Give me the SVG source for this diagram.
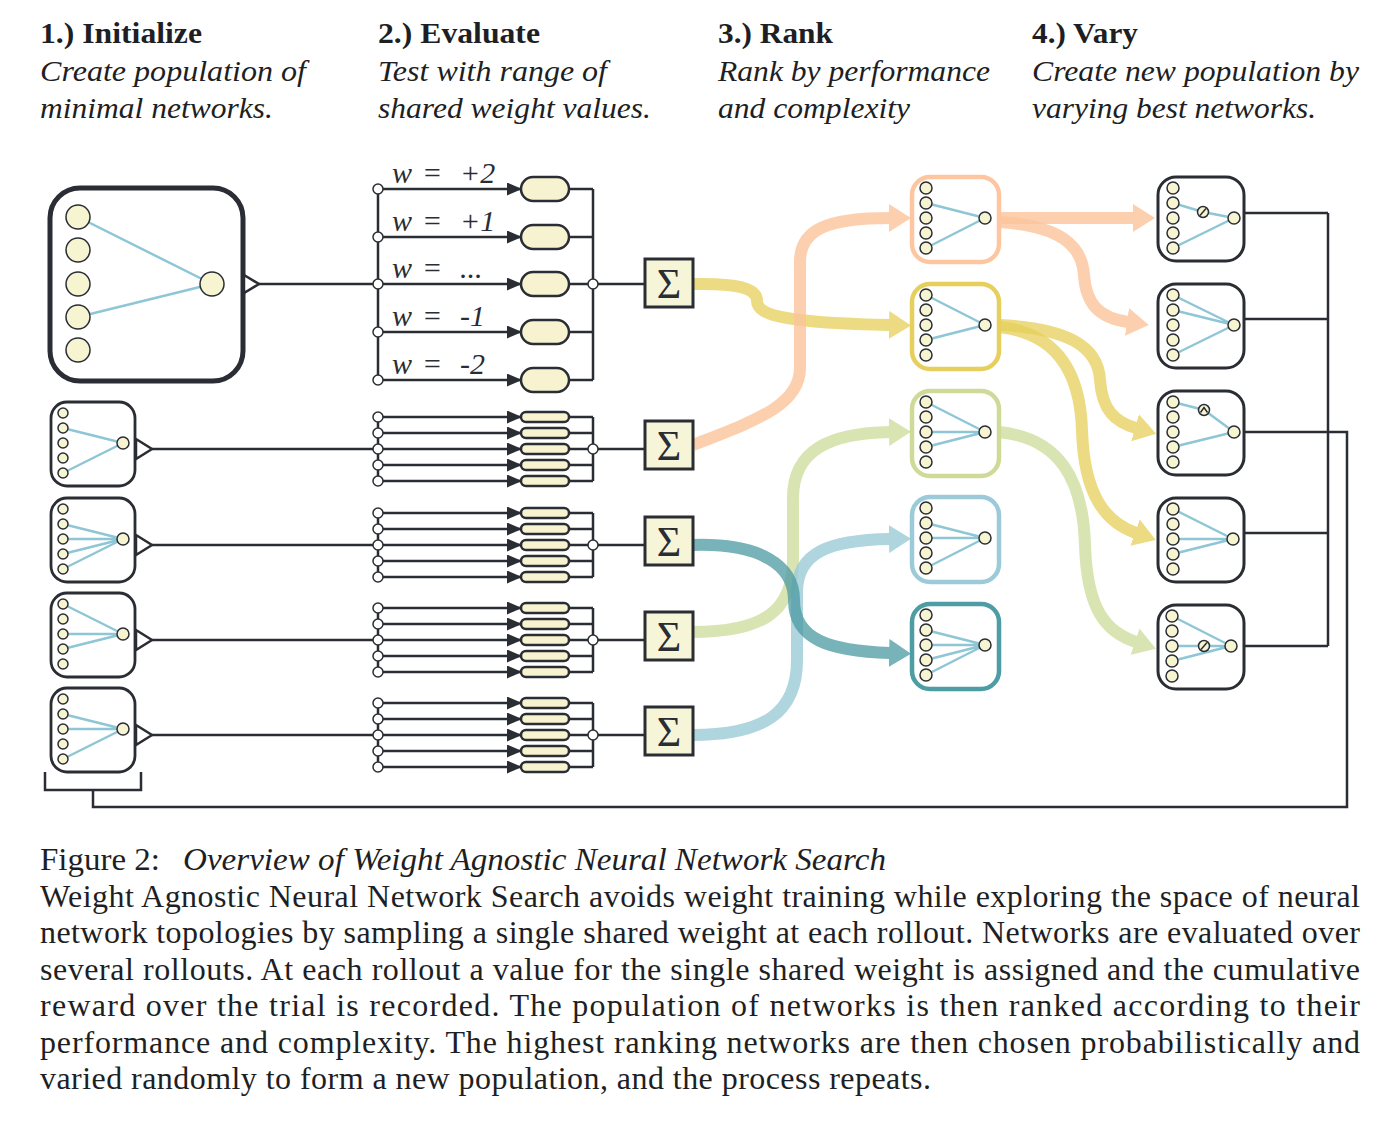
<svg xmlns="http://www.w3.org/2000/svg" width="1378" height="1122" viewBox="0 0 1378 1122">
<style>
.t{font-family:"Liberation Serif","Times New Roman",serif;fill:#1e1f24}
.hb{font-size:30px;font-weight:bold}
.hi{font-size:30px;font-style:italic}
.cap{font-size:32px}
.wl{font-family:"Liberation Serif","Times New Roman",serif;font-size:30px;font-style:italic;fill:#2a2d33}
.sig{font-family:"Liberation Serif","Times New Roman",serif;font-size:42px;fill:#2a2d33;text-anchor:middle}
.nd{fill:#f7f4d2;stroke:#2a2d33;stroke-width:1.5}
.ed{stroke:#8fc6d6;stroke-width:2.5;fill:none}
.ln{stroke:#2a2d33;stroke-width:2.5;fill:none}
.ar{stroke:#2a2d33;stroke-width:2.5;fill:none;marker-end:url(#ah)}
.wc{fill:#fff;stroke:#2a2d33;stroke-width:1.5}
.pill{fill:#f7f2d0;stroke:#2a2d33;stroke-width:2.5}
.sbx{fill:#fff;stroke:#2a2d33;stroke-width:2.8}
.vbx{fill:#fff;stroke:#2a2d33;stroke-width:3}
.rbx{fill:#fff;stroke-width:4.5}
.sg{fill:#f7f5d8;stroke:#2a2d33;stroke-width:3}
.tri{fill:#fff;stroke:#2a2d33;stroke-width:2.5;stroke-linejoin:miter}
.flow{fill:none;stroke-width:12}
.fo{stroke:#fcc59c;opacity:.8;marker-end:url(#mo)}
.fy{stroke:#e6cf5a;opacity:.75;marker-end:url(#my)}
.fg{stroke:#cddc9a;opacity:.75;marker-end:url(#mg)}
.fb{stroke:#9ccbd8;opacity:.8;marker-end:url(#mb)}
.ft{stroke:#4c9aa3;opacity:.75;marker-end:url(#mt)}
</style>
<defs>
<marker id="ah" markerUnits="userSpaceOnUse" markerWidth="15" markerHeight="13" viewBox="0 0 15 13" refX="14" refY="6.5" orient="auto"><path d="M0,0 L15,6.5 L0,13 z" fill="#2a2d33"/></marker>
<marker id="mo" markerUnits="userSpaceOnUse" markerWidth="22" markerHeight="28" viewBox="0 0 22 28" refX="1" refY="14" orient="auto"><path d="M0,0 L22,14 L0,28 z" fill="#fcc59c"/></marker>
<marker id="my" markerUnits="userSpaceOnUse" markerWidth="22" markerHeight="28" viewBox="0 0 22 28" refX="1" refY="14" orient="auto"><path d="M0,0 L22,14 L0,28 z" fill="#e6cf5a"/></marker>
<marker id="mg" markerUnits="userSpaceOnUse" markerWidth="22" markerHeight="28" viewBox="0 0 22 28" refX="1" refY="14" orient="auto"><path d="M0,0 L22,14 L0,28 z" fill="#cddc9a"/></marker>
<marker id="mb" markerUnits="userSpaceOnUse" markerWidth="22" markerHeight="28" viewBox="0 0 22 28" refX="1" refY="14" orient="auto"><path d="M0,0 L22,14 L0,28 z" fill="#9ccbd8"/></marker>
<marker id="mt" markerUnits="userSpaceOnUse" markerWidth="22" markerHeight="28" viewBox="0 0 22 28" refX="1" refY="14" orient="auto"><path d="M0,0 L22,14 L0,28 z" fill="#4c9aa3"/></marker>
</defs>
<rect width="1378" height="1122" fill="#fff"/>

<g id="headers">
<text class="t hb" x="40" y="43" textLength="162" lengthAdjust="spacingAndGlyphs">1.) Initialize</text>
<text class="t hi" x="40" y="81" textLength="266" lengthAdjust="spacingAndGlyphs">Create population of</text>
<text class="t hi" x="40" y="118" textLength="233" lengthAdjust="spacingAndGlyphs">minimal networks.</text>
<text class="t hb" x="378" y="43" textLength="162" lengthAdjust="spacingAndGlyphs">2.) Evaluate</text>
<text class="t hi" x="378" y="81" textLength="229" lengthAdjust="spacingAndGlyphs">Test with range of</text>
<text class="t hi" x="378" y="118" textLength="273" lengthAdjust="spacingAndGlyphs">shared weight values.</text>
<text class="t hb" x="718" y="43" textLength="115" lengthAdjust="spacingAndGlyphs">3.) Rank</text>
<text class="t hi" x="718" y="81" textLength="272" lengthAdjust="spacingAndGlyphs">Rank by performance</text>
<text class="t hi" x="718" y="118" textLength="192" lengthAdjust="spacingAndGlyphs">and complexity</text>
<text class="t hb" x="1032" y="43" textLength="106" lengthAdjust="spacingAndGlyphs">4.) Vary</text>
<text class="t hi" x="1032" y="81" textLength="327" lengthAdjust="spacingAndGlyphs">Create new population by</text>
<text class="t hi" x="1032" y="118" textLength="284" lengthAdjust="spacingAndGlyphs">varying best networks.</text>
</g>

<g id="connectors">
<path class="ln" d="M259,284 H378"/>
<path class="ln" d="M152,449 H378"/>
<path class="ln" d="M152,545 H378"/>
<path class="ln" d="M152,640 H378"/>
<path class="ln" d="M152,735 H378"/>
<path class="ln" d="M593,284 H645"/>
<path class="ln" d="M593,449 H645"/>
<path class="ln" d="M593,545 H645"/>
<path class="ln" d="M593,640 H645"/>
<path class="ln" d="M593,735 H645"/>
<path class="ln" d="M1244,213 H1328 M1244,319 H1328 M1244,533 H1328 M1244,646 H1328 M1328,213 V646"/>
<path class="ln" d="M1244,432 H1347 V807 H93 V790"/>
<path class="ln" d="M45,772 V790 H141 V772"/>
<path class="flow fy" d="M693,284 C737,283 757,288 757,301 C757,316 790,323 890,325"/>
<path class="flow fo" d="M693,445 C757,420 800,405 800,368 L800,262 C800,228 830,218 890,218"/>
<path class="flow fg" d="M693,632 C762,632 793,612 793,560 L793,498 C793,450 830,433 890,432"/>
<path class="flow fb" d="M693,735 C765,735 797,712 797,660 L797,592 C797,552 830,540 890,539"/>
<path class="flow ft" d="M693,545 C760,543 794,565 794,600 C794,640 830,651 890,653"/>
<path class="flow fo" d="M999,218 L1134,218"/>
<path class="flow fo" d="M999,222 C1060,226 1082,245 1084,275 C1086,305 1100,318 1128,322"/>
<path class="flow fy" d="M999,325 C1065,328 1098,345 1100,380 C1102,410 1115,422 1136,428"/>
<path class="flow fy" d="M999,327 C1055,333 1080,370 1082,430 C1084,495 1105,522 1136,533"/>
<path class="flow fg" d="M999,432 C1060,438 1083,480 1085,545 C1087,610 1106,632 1136,642"/>
</g>

<g id="net-init">
<rect x="50" y="188" width="193" height="193" rx="30" fill="#fff" stroke="#2a2d33" stroke-width="5"/>
<path class="ed" d="M78,217 L212,284 M78,317 L212,284"/>
<circle class="nd" cx="78" cy="217" r="12"/><circle class="nd" cx="78" cy="250" r="12"/><circle class="nd" cx="78" cy="284" r="12"/><circle class="nd" cx="78" cy="317" r="12"/><circle class="nd" cx="78" cy="350" r="12"/>
<circle class="nd" cx="212" cy="284" r="12"/>
<polygon class="tri" points="244,275 259,284 244,293"/>
</g>

<g id="net-p2">
<rect class="sbx" x="51" y="402" width="84" height="84" rx="16"/>
<path class="ed" d="M63,428 L123,443 M63,473 L123,443"/>
<circle class="nd" cx="63" cy="413" r="5"/><circle class="nd" cx="63" cy="428" r="5"/><circle class="nd" cx="63" cy="443" r="5"/><circle class="nd" cx="63" cy="458" r="5"/><circle class="nd" cx="63" cy="473" r="5"/>
<circle class="nd" cx="123" cy="443" r="6"/>
<polygon class="tri" points="136,439 152,449 136,459"/>
</g>
<g id="net-p3">
<rect class="sbx" x="51" y="498" width="84" height="84" rx="16"/>
<path class="ed" d="M63,524 L123,539 M63,539 L123,539 M63,554 L123,539 M63,569 L123,539"/>
<circle class="nd" cx="63" cy="509" r="5"/><circle class="nd" cx="63" cy="524" r="5"/><circle class="nd" cx="63" cy="539" r="5"/><circle class="nd" cx="63" cy="554" r="5"/><circle class="nd" cx="63" cy="569" r="5"/>
<circle class="nd" cx="123" cy="539" r="6"/>
<polygon class="tri" points="136,535 152,545 136,555"/>
</g>
<g id="net-p4">
<rect class="sbx" x="51" y="593" width="84" height="84" rx="16"/>
<path class="ed" d="M63,604 L123,634 M63,634 L123,634 M63,649 L123,634"/>
<circle class="nd" cx="63" cy="604" r="5"/><circle class="nd" cx="63" cy="619" r="5"/><circle class="nd" cx="63" cy="634" r="5"/><circle class="nd" cx="63" cy="649" r="5"/><circle class="nd" cx="63" cy="664" r="5"/>
<circle class="nd" cx="123" cy="634" r="6"/>
<polygon class="tri" points="136,630 152,640 136,650"/>
</g>
<g id="net-p5">
<rect class="sbx" x="51" y="688" width="84" height="84" rx="16"/>
<path class="ed" d="M63,714 L123,729 M63,729 L123,729 M63,759 L123,729"/>
<circle class="nd" cx="63" cy="699" r="5"/><circle class="nd" cx="63" cy="714" r="5"/><circle class="nd" cx="63" cy="729" r="5"/><circle class="nd" cx="63" cy="744" r="5"/><circle class="nd" cx="63" cy="759" r="5"/>
<circle class="nd" cx="123" cy="729" r="6"/>
<polygon class="tri" points="136,725 152,735 136,745"/>
</g>

<g id="eval-1">
<path class="ln" d="M378,189 V380 M593,189 V380"/>
<path class="ar" d="M378,189 H521"/><path class="ar" d="M378,237 H521"/><path class="ar" d="M378,284 H521"/><path class="ar" d="M378,332 H521"/><path class="ar" d="M378,380 H521"/>
<path class="ln" d="M569,189 H593 M569,237 H593 M569,284 H593 M569,332 H593 M569,380 H593"/>
<rect class="pill" x="521" y="177" width="48" height="24" rx="12"/>
<rect class="pill" x="521" y="225" width="48" height="24" rx="12"/>
<rect class="pill" x="521" y="272" width="48" height="24" rx="12"/>
<rect class="pill" x="521" y="320" width="48" height="24" rx="12"/>
<rect class="pill" x="521" y="368" width="48" height="24" rx="12"/>
<circle class="wc" cx="378" cy="189" r="5"/><circle class="wc" cx="378" cy="237" r="5"/><circle class="wc" cx="378" cy="284" r="5"/><circle class="wc" cx="378" cy="332" r="5"/><circle class="wc" cx="378" cy="380" r="5"/>
<circle class="wc" cx="593" cy="284" r="5"/>
<text class="wl" x="392" y="183">w</text><text class="wl" x="422" y="183">=</text><text class="wl" x="460" y="183">+2</text>
<text class="wl" x="392" y="231">w</text><text class="wl" x="422" y="231">=</text><text class="wl" x="460" y="231">+1</text>
<text class="wl" x="392" y="278">w</text><text class="wl" x="422" y="278">=</text><text class="wl" x="460" y="278">...</text>
<text class="wl" x="392" y="326">w</text><text class="wl" x="422" y="326">=</text><text class="wl" x="460" y="326">-1</text>
<text class="wl" x="392" y="374">w</text><text class="wl" x="422" y="374">=</text><text class="wl" x="460" y="374">-2</text>
</g>

<g id="eval-2">
<path class="ln" d="M378,417 V481 M593,417 V481"/>
<path class="ar" d="M378,417 H521"/><path class="ar" d="M378,433 H521"/><path class="ar" d="M378,449 H521"/><path class="ar" d="M378,465 H521"/><path class="ar" d="M378,481 H521"/>
<path class="ln" d="M569,417 H593 M569,433 H593 M569,449 H593 M569,465 H593 M569,481 H593"/>
<rect class="pill" x="521" y="412" width="48" height="10" rx="5"/><rect class="pill" x="521" y="428" width="48" height="10" rx="5"/><rect class="pill" x="521" y="444" width="48" height="10" rx="5"/><rect class="pill" x="521" y="460" width="48" height="10" rx="5"/><rect class="pill" x="521" y="476" width="48" height="10" rx="5"/>
<circle class="wc" cx="378" cy="417" r="5"/><circle class="wc" cx="378" cy="433" r="5"/><circle class="wc" cx="378" cy="449" r="5"/><circle class="wc" cx="378" cy="465" r="5"/><circle class="wc" cx="378" cy="481" r="5"/>
<circle class="wc" cx="593" cy="449" r="5"/>
</g>
<g id="eval-3">
<path class="ln" d="M378,513 V577 M593,513 V577"/>
<path class="ar" d="M378,513 H521"/><path class="ar" d="M378,529 H521"/><path class="ar" d="M378,545 H521"/><path class="ar" d="M378,561 H521"/><path class="ar" d="M378,577 H521"/>
<path class="ln" d="M569,513 H593 M569,529 H593 M569,545 H593 M569,561 H593 M569,577 H593"/>
<rect class="pill" x="521" y="508" width="48" height="10" rx="5"/><rect class="pill" x="521" y="524" width="48" height="10" rx="5"/><rect class="pill" x="521" y="540" width="48" height="10" rx="5"/><rect class="pill" x="521" y="556" width="48" height="10" rx="5"/><rect class="pill" x="521" y="572" width="48" height="10" rx="5"/>
<circle class="wc" cx="378" cy="513" r="5"/><circle class="wc" cx="378" cy="529" r="5"/><circle class="wc" cx="378" cy="545" r="5"/><circle class="wc" cx="378" cy="561" r="5"/><circle class="wc" cx="378" cy="577" r="5"/>
<circle class="wc" cx="593" cy="545" r="5"/>
</g>
<g id="eval-4">
<path class="ln" d="M378,608 V672 M593,608 V672"/>
<path class="ar" d="M378,608 H521"/><path class="ar" d="M378,624 H521"/><path class="ar" d="M378,640 H521"/><path class="ar" d="M378,656 H521"/><path class="ar" d="M378,672 H521"/>
<path class="ln" d="M569,608 H593 M569,624 H593 M569,640 H593 M569,656 H593 M569,672 H593"/>
<rect class="pill" x="521" y="603" width="48" height="10" rx="5"/><rect class="pill" x="521" y="619" width="48" height="10" rx="5"/><rect class="pill" x="521" y="635" width="48" height="10" rx="5"/><rect class="pill" x="521" y="651" width="48" height="10" rx="5"/><rect class="pill" x="521" y="667" width="48" height="10" rx="5"/>
<circle class="wc" cx="378" cy="608" r="5"/><circle class="wc" cx="378" cy="624" r="5"/><circle class="wc" cx="378" cy="640" r="5"/><circle class="wc" cx="378" cy="656" r="5"/><circle class="wc" cx="378" cy="672" r="5"/>
<circle class="wc" cx="593" cy="640" r="5"/>
</g>
<g id="eval-5">
<path class="ln" d="M378,703 V767 M593,703 V767"/>
<path class="ar" d="M378,703 H521"/><path class="ar" d="M378,719 H521"/><path class="ar" d="M378,735 H521"/><path class="ar" d="M378,751 H521"/><path class="ar" d="M378,767 H521"/>
<path class="ln" d="M569,703 H593 M569,719 H593 M569,735 H593 M569,751 H593 M569,767 H593"/>
<rect class="pill" x="521" y="698" width="48" height="10" rx="5"/><rect class="pill" x="521" y="714" width="48" height="10" rx="5"/><rect class="pill" x="521" y="730" width="48" height="10" rx="5"/><rect class="pill" x="521" y="746" width="48" height="10" rx="5"/><rect class="pill" x="521" y="762" width="48" height="10" rx="5"/>
<circle class="wc" cx="378" cy="703" r="5"/><circle class="wc" cx="378" cy="719" r="5"/><circle class="wc" cx="378" cy="735" r="5"/><circle class="wc" cx="378" cy="751" r="5"/><circle class="wc" cx="378" cy="767" r="5"/>
<circle class="wc" cx="593" cy="735" r="5"/>
</g>

<g id="sum-1"><rect class="sg" x="645" y="259" width="48" height="48"/><text class="sig" x="669" y="298">Σ</text></g>
<g id="sum-2"><rect class="sg" x="645" y="421" width="48" height="48"/><text class="sig" x="669" y="460">Σ</text></g>
<g id="sum-3"><rect class="sg" x="645" y="517" width="48" height="48"/><text class="sig" x="669" y="556">Σ</text></g>
<g id="sum-4"><rect class="sg" x="645" y="612" width="48" height="48"/><text class="sig" x="669" y="651">Σ</text></g>
<g id="sum-5"><rect class="sg" x="645" y="707" width="48" height="48"/><text class="sig" x="669" y="746">Σ</text></g>

<g id="rank-1">
<rect class="rbx" x="912" y="177" width="87" height="85" rx="18" stroke="#fdc6a0"/>
<path class="ed" d="M926,203 L985,218 M926,248 L985,218"/>
<circle class="nd" cx="926" cy="188" r="6"/><circle class="nd" cx="926" cy="203" r="6"/><circle class="nd" cx="926" cy="218" r="6"/><circle class="nd" cx="926" cy="233" r="6"/><circle class="nd" cx="926" cy="248" r="6"/>
<circle class="nd" cx="985" cy="218" r="6"/>
</g>
<g id="rank-2">
<rect class="rbx" x="912" y="284" width="87" height="85" rx="18" stroke="#e6cf5d"/>
<path class="ed" d="M926,295 L985,325 M926,340 L985,325"/>
<circle class="nd" cx="926" cy="295" r="6"/><circle class="nd" cx="926" cy="310" r="6"/><circle class="nd" cx="926" cy="325" r="6"/><circle class="nd" cx="926" cy="340" r="6"/><circle class="nd" cx="926" cy="355" r="6"/>
<circle class="nd" cx="985" cy="325" r="6"/>
</g>
<g id="rank-3">
<rect class="rbx" x="912" y="391" width="87" height="85" rx="18" stroke="#cdda98"/>
<path class="ed" d="M926,402 L985,432 M926,432 L985,432 M926,447 L985,432"/>
<circle class="nd" cx="926" cy="402" r="6"/><circle class="nd" cx="926" cy="417" r="6"/><circle class="nd" cx="926" cy="432" r="6"/><circle class="nd" cx="926" cy="447" r="6"/><circle class="nd" cx="926" cy="462" r="6"/>
<circle class="nd" cx="985" cy="432" r="6"/>
</g>
<g id="rank-4">
<rect class="rbx" x="912" y="497" width="87" height="85" rx="18" stroke="#9ccad8"/>
<path class="ed" d="M926,523 L985,538 M926,538 L985,538 M926,568 L985,538"/>
<circle class="nd" cx="926" cy="508" r="6"/><circle class="nd" cx="926" cy="523" r="6"/><circle class="nd" cx="926" cy="538" r="6"/><circle class="nd" cx="926" cy="553" r="6"/><circle class="nd" cx="926" cy="568" r="6"/>
<circle class="nd" cx="985" cy="538" r="6"/>
</g>
<g id="rank-5">
<rect class="rbx" x="912" y="604" width="87" height="85" rx="18" stroke="#4e9ca4"/>
<path class="ed" d="M926,630 L985,645 M926,645 L985,645 M926,660 L985,645 M926,675 L985,645"/>
<circle class="nd" cx="926" cy="615" r="6"/><circle class="nd" cx="926" cy="630" r="6"/><circle class="nd" cx="926" cy="645" r="6"/><circle class="nd" cx="926" cy="660" r="6"/><circle class="nd" cx="926" cy="675" r="6"/>
<circle class="nd" cx="985" cy="645" r="6"/>
</g>

<g id="vary-1">
<rect class="vbx" x="1158" y="177" width="86" height="84" rx="18"/>
<path class="ed" d="M1173,203 L1203,212 L1234,218 M1173,248 L1234,218"/>
<circle class="nd" cx="1173" cy="188" r="6"/><circle class="nd" cx="1173" cy="203" r="6"/><circle class="nd" cx="1173" cy="218" r="6"/><circle class="nd" cx="1173" cy="233" r="6"/><circle class="nd" cx="1173" cy="248" r="6"/>
<circle class="nd" cx="1203" cy="212" r="5.5"/><path d="M1200,215.5 L1206,208.5" stroke="#2a2d33" stroke-width="1.5"/>
<circle class="nd" cx="1234" cy="218" r="6"/>
</g>
<g id="vary-2">
<rect class="vbx" x="1158" y="284" width="86" height="84" rx="18"/>
<path class="ed" d="M1173,295 L1234,325 M1173,310 L1234,325 M1173,355 L1234,325"/>
<circle class="nd" cx="1173" cy="295" r="6"/><circle class="nd" cx="1173" cy="310" r="6"/><circle class="nd" cx="1173" cy="325" r="6"/><circle class="nd" cx="1173" cy="340" r="6"/><circle class="nd" cx="1173" cy="355" r="6"/>
<circle class="nd" cx="1234" cy="325" r="6"/>
</g>
<g id="vary-3">
<rect class="vbx" x="1158" y="391" width="86" height="84" rx="18"/>
<path class="ed" d="M1173,402 L1204,410 L1234,432 M1173,447 L1234,432"/>
<circle class="nd" cx="1173" cy="402" r="6"/><circle class="nd" cx="1173" cy="417" r="6"/><circle class="nd" cx="1173" cy="432" r="6"/><circle class="nd" cx="1173" cy="447" r="6"/><circle class="nd" cx="1173" cy="462" r="6"/>
<circle class="nd" cx="1204" cy="410" r="5.5"/><path d="M1200.5,412.5 L1204,407.5 L1207.5,412.5" fill="none" stroke="#2a2d33" stroke-width="1.5"/>
<circle class="nd" cx="1234" cy="432" r="6"/>
</g>
<g id="vary-4">
<rect class="vbx" x="1158" y="498" width="86" height="84" rx="18"/>
<path class="ed" d="M1173,509 L1233,539 M1173,539 L1233,539 M1173,554 L1233,539"/>
<circle class="nd" cx="1173" cy="509" r="6"/><circle class="nd" cx="1173" cy="524" r="6"/><circle class="nd" cx="1173" cy="539" r="6"/><circle class="nd" cx="1173" cy="554" r="6"/><circle class="nd" cx="1173" cy="569" r="6"/>
<circle class="nd" cx="1233" cy="539" r="6"/>
</g>
<g id="vary-5">
<rect class="vbx" x="1158" y="605" width="86" height="84" rx="18"/>
<path class="ed" d="M1172,616 L1231,646 M1172,646 L1231,646 M1172,661 L1231,646"/>
<circle class="nd" cx="1172" cy="616" r="6"/><circle class="nd" cx="1172" cy="631" r="6"/><circle class="nd" cx="1172" cy="646" r="6"/><circle class="nd" cx="1172" cy="661" r="6"/><circle class="nd" cx="1172" cy="676" r="6"/>
<circle class="nd" cx="1204" cy="646" r="5.5"/><path d="M1201,649.5 L1207,642.5" stroke="#2a2d33" stroke-width="1.5"/>
<circle class="nd" cx="1231" cy="646" r="6"/>
</g>

<g id="caption">
<text class="t cap" x="40" y="870" textLength="120" lengthAdjust="spacingAndGlyphs">Figure 2:</text>
<text class="t cap" x="183" y="870" font-style="italic" textLength="703" lengthAdjust="spacingAndGlyphs">Overview of Weight Agnostic Neural Network Search</text>
<text class="t cap" x="40" y="907" textLength="1320" lengthAdjust="spacing">Weight Agnostic Neural Network Search avoids weight training while exploring the space of neural</text>
<text class="t cap" x="40" y="943" textLength="1320" lengthAdjust="spacing">network topologies by sampling a single shared weight at each rollout. Networks are evaluated over</text>
<text class="t cap" x="40" y="980" textLength="1320" lengthAdjust="spacing">several rollouts. At each rollout a value for the single shared weight is assigned and the cumulative</text>
<text class="t cap" x="40" y="1016" textLength="1320" lengthAdjust="spacing">reward over the trial is recorded.  The population of networks is then ranked according to their</text>
<text class="t cap" x="40" y="1053" textLength="1320" lengthAdjust="spacing">performance and complexity. The highest ranking networks are then chosen probabilistically and</text>
<text class="t cap" x="40" y="1089" textLength="891" lengthAdjust="spacing">varied randomly to form a new population, and the process repeats.</text>
</g>
</svg>
